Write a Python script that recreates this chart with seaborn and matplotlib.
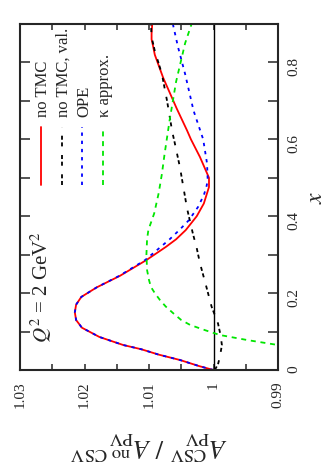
import numpy as np
import pandas as pd
import matplotlib
matplotlib.use("Agg")
import matplotlib.pyplot as plt
from matplotlib.ticker import MultipleLocator, FuncFormatter
import seaborn as sns


# curves: x (Bjorken x) and the CSV / no-CSV ratio
x_notmc = [0.0, 0.01, 0.026, 0.04, 0.054, 0.065, 0.086, 0.11, 0.13, 0.15, 0.17,
           0.19, 0.215, 0.245, 0.286, 0.32, 0.34, 0.364, 0.40, 0.433, 0.476, 0.50,
           0.554, 0.60, 0.623, 0.68, 0.76, 0.82, 0.845, 0.86, 0.875, 0.9]
r_notmc = [1.0000, 1.0022, 1.0052, 1.0085, 1.0112, 1.0140, 1.0177, 1.0204, 1.0213,
           1.0215, 1.0213, 1.0205, 1.0181, 1.0145, 1.0104, 1.0074, 1.0058, 1.0043,
           1.0026, 1.0015, 1.0007, 1.0007, 1.0021, 1.0035, 1.0041, 1.0057, 1.0078,
           1.0091, 1.0094, 1.0096, 1.0096, 1.0095]

x_val = [0.0, 0.015, 0.035, 0.065, 0.09, 0.121, 0.165, 0.216, 0.278, 0.317,
         0.355, 0.42, 0.527, 0.59, 0.62, 0.70, 0.77, 0.83, 0.866, 0.9]
r_val = [0.9998, 0.9993, 0.9990, 0.9987, 0.9989, 0.9993, 1.0003, 1.0011, 1.0021,
         1.0026, 1.0032, 1.0041, 1.0052, 1.0060, 1.0064, 1.0072, 1.0080, 1.0091,
         1.0096, 1.0097]

x_ope = [0.0, 0.01, 0.026, 0.04, 0.054, 0.065, 0.086, 0.11, 0.13, 0.15, 0.17,
         0.19, 0.215, 0.245, 0.286, 0.32, 0.34, 0.364, 0.39, 0.424, 0.455, 0.476,
         0.494, 0.537, 0.60, 0.675, 0.77, 0.84, 0.9]
r_ope = [1.0000, 1.0022, 1.0052, 1.0085, 1.0112, 1.0140, 1.0177, 1.0204, 1.0213,
         1.0215, 1.0213, 1.0205, 1.0181, 1.0146, 1.0106, 1.0082, 1.0068, 1.0053,
         1.0038, 1.0024, 1.0015, 1.0011, 1.0009, 1.0010, 1.0016, 1.0031, 1.0044,
         1.0055, 1.0063]

x_kappa = [0.055, 0.065, 0.078, 0.091, 0.103, 0.117, 0.13, 0.147, 0.165, 0.182,
           0.2, 0.216, 0.234, 0.26, 0.30, 0.34, 0.364, 0.407, 0.46, 0.51, 0.56,
           0.605, 0.65, 0.70, 0.75, 0.80, 0.85, 0.9]
r_kappa = [0.9860, 0.9900, 0.9948, 0.9990, 1.0012, 1.0036, 1.0050, 1.0062, 1.0074,
           1.0083, 1.0091, 1.0097, 1.0100, 1.0103, 1.0104, 1.0103, 1.0101, 1.0092,
           1.0085, 1.0080, 1.0076, 1.0072, 1.0068, 1.0063, 1.0058, 1.0051, 1.0044,
           1.0034]

labels = ["no TMC", "no TMC, val.", "OPE", "\u03ba approx."]
colors = ["#ff0000", "#000000", "#0000ff", "#00e600"]
dash_styles = ["", (2.9, 1.9, 2.9, 6.2), (2.4, 3.5), (3.6, 3.4)]


def main():

    sns.set_style("ticks")
    plt.rcParams["font.family"] = ["Liberation Serif", "DejaVu Serif"]
    plt.rcParams["mathtext.fontset"] = "stix"
    plt.rcParams["lines.scale_dashes"] = False

    frames = []
    for lab, xs, rs in zip(labels,
                           [x_notmc, x_val, x_ope, x_kappa],
                           [r_notmc, r_val, r_ope, r_kappa]):
        frames.append(pd.DataFrame({"x": xs, "ratio": rs, "series": lab}))
    df = pd.concat(frames, ignore_index=True)

    fig = plt.figure(figsize=(3.3, 4.7), dpi=100)
    ax = fig.add_axes([20 / 330, 1 - 370 / 470, 258 / 330, 346 / 470])

    ax.axvline(1.0, color="black", lw=1.0, zorder=1)

    sns.lineplot(
        data=df, x="ratio", y="x",
        hue="series", style="series",
        hue_order=labels, style_order=labels,
        palette=dict(zip(labels, colors)),
        dashes=dict(zip(labels, dash_styles)),
        orient="y", estimator=None, legend=False,
        lw=1.3, ax=ax
    )

    # rotated frame: ratio runs right-to-left, x runs upward
    ax.set_xlim(1.03, 0.99)
    ax.set_ylim(0, 0.9)

    ax.xaxis.set_major_locator(MultipleLocator(0.01))
    ax.xaxis.set_minor_locator(MultipleLocator(0.005))
    ax.yaxis.set_major_locator(MultipleLocator(0.2))
    ax.yaxis.set_minor_locator(MultipleLocator(0.1))
    fmt = FuncFormatter(lambda v, p: "%g" % round(v, 4))
    ax.xaxis.set_major_formatter(fmt)
    ax.yaxis.set_major_formatter(fmt)

    ax.tick_params(axis="x", which="both", direction="in", top=True, bottom=True,
                   length=4, width=1.1, labelsize=11, labelrotation=90, pad=8)
    ax.tick_params(axis="y", which="both", direction="in", left=True, right=True,
                   labelleft=False, labelright=True,
                   length=7, width=1.1, labelsize=11, labelrotation=90, pad=7)

    for sp in ax.spines.values():
        sp.set_linewidth(1.5)

    ax.yaxis.set_label_position("right")
    ax.set_ylabel("$x$", fontsize=17, rotation=90, labelpad=4)
    ax.set_xlabel(r"$A_{\rm PV}^{\rm CSV}\ /\ A_{\rm PV}^{\rm no\ CSV}$",
                  fontsize=19, rotation=180, labelpad=15)

    # legend, drawn rotated by hand
    col_x = [0.0814, 0.163, 0.240, 0.3217]
    for cx, lab, col, ds in zip(col_x, labels, colors, dash_styles):
        ax.plot([cx, cx], [0.5347, 0.7023], color=col, lw=1.3,
                dashes=ds if ds else (None, None), transform=ax.transAxes)
        ax.text(cx + 0.008, 0.731, lab, fontsize=12, rotation=90,
                rotation_mode="anchor", ha="left", va="center",
                transform=ax.transAxes)

    ax.text(0.1085, 0.078, r"$Q^2$ = 2 GeV$^2$", fontsize=15, rotation=90,
            rotation_mode="anchor", ha="left", va="baseline",
            transform=ax.transAxes)

    fig.savefig("out.png", dpi=100)
    plt.close(fig)


if __name__ == "__main__":
    main()
